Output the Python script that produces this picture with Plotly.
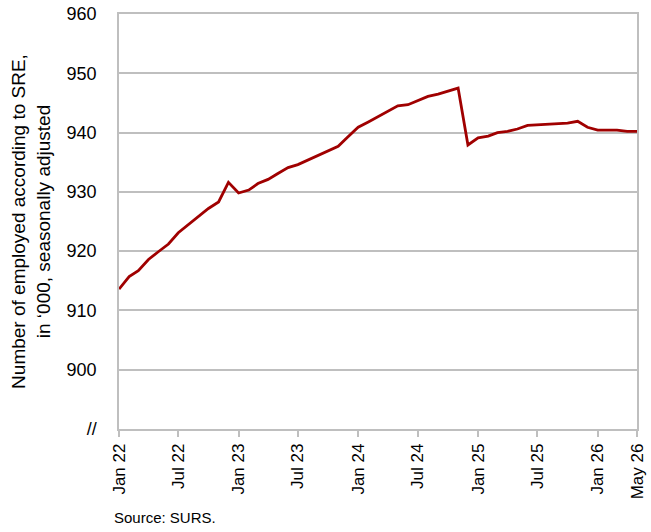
import pandas as pd
import plotly.graph_objects as go

# monthly, Jan 2022 - May 2026
meses = pd.date_range("2022-01-01", periods=53, freq="MS")

empleados = [
    913.6, 915.7, 916.7, 918.6, 919.9, 921.2, 923.1, 924.5, 925.8, 927.2, 928.3, 931.6,
    929.8, 930.3, 931.4, 932.1, 933.1, 934.1, 934.6, 935.4, 936.2, 936.9, 937.7, 939.3,
    940.9, 941.8, 942.7, 943.7, 944.5, 944.7, 945.4, 946.1, 946.5, 947.0, 947.5, 937.9,
    939.1, 939.4, 940.0, 940.2, 940.6, 941.2, 941.3, 941.5, 941.6, 941.6, 941.9, 940.9,
    940.4, 940.4, 940.4, 940.2, 940.2,
]

x_ticks = ["2022-01-01", "2022-07-01", "2023-01-01", "2023-07-01", "2024-01-01",
           "2024-07-01", "2025-01-01", "2025-07-01", "2026-01-01", "2026-05-01"]
x_labels = ["Jan 22", "Jul 22", "Jan 23", "Jul 23", "Jan 24",
            "Jul 24", "Jan 25", "Jul 25", "Jan 26", "May 26"]

y_ticks = [890, 900, 910, 920, 930, 940, 950, 960]
y_labels = ["//", "900", "910", "920", "930", "940", "950", "960"]

gris = "#bfbfbf"

fig = go.Figure()

fig.add_trace(
    go.Scatter(
        x=meses,
        y=empleados,
        mode="lines",
        line=dict(color="#a00000", width=2.8),
        showlegend=False
    )
)

fig.update_layout(
    width=651,
    height=532,
    plot_bgcolor="white",
    paper_bgcolor="white",
    font=dict(family="Liberation Sans, Arial, sans-serif", size=18, color="black"),
    margin=dict(l=119, r=14, t=14, b=103, autoexpand=False),
    annotations=[
        dict(
            text="Source: SURS.",
            xref="paper", yref="paper",
            x=-0.013, y=-0.214,
            xanchor="left", yanchor="middle",
            showarrow=False,
            font=dict(size=15)
        )
    ]
)

fig.update_xaxes(
    range=["2022-01-01", "2026-05-01"],
    tickvals=x_ticks,
    ticktext=x_labels,
    tickangle=-90,
    ticks="outside",
    ticklen=6,
    tickwidth=1.5,
    tickcolor=gris,
    showgrid=False,
    showline=True,
    linecolor=gris,
    linewidth=1.5,
    mirror=True,
    automargin=False,
    tickfont=dict(size=17)
)

fig.update_yaxes(
    range=[890, 960],
    tickvals=y_ticks,
    ticktext=y_labels,
    showgrid=True,
    gridcolor=gris,
    gridwidth=1.5,
    zeroline=False,
    showline=True,
    linecolor=gris,
    linewidth=1.5,
    mirror=True,
    ticks="",
    ticklabelstandoff=17,
    automargin=False,
    tickfont=dict(size=18),
    title=dict(
        text="Number of employed according to SRE,<br>in ‘000, seasonally adjusted",
        font=dict(size=19),
        standoff=11
    )
)

fig.write_html(
    "out.html",
    config={"displayModeBar": False},
    post_script="document.body.style.margin='0';"
)
